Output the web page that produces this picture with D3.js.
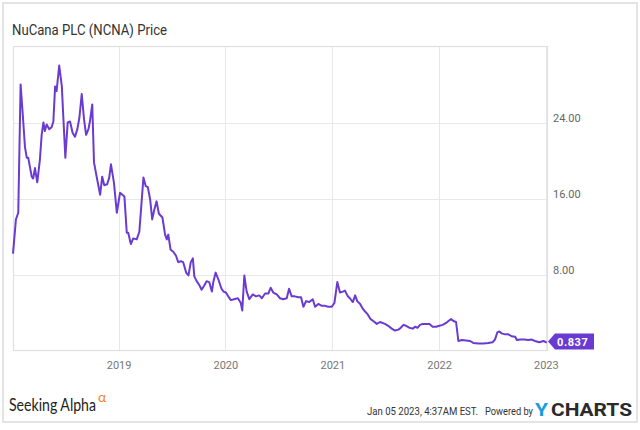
<!DOCTYPE html>
<html>
<head>
<meta charset="utf-8">
<script src="https://cdn.jsdelivr.net/npm/d3@7"></script>
<style>
  body { margin: 0; background: #fff; }
  svg { display: block; font-family: Roboto, "Noto Sans", sans-serif; }
</style>
</head>
<body>
<svg id="chart" width="640" height="430"></svg>
<script>
// NCNA closing prices
var dates = [
  "2018-01-05","2018-01-15","2018-01-23","2018-01-31","2018-02-07","2018-02-15","2018-02-21","2018-02-26",
  "2018-03-10","2018-03-15","2018-03-21","2018-03-29","2018-04-07","2018-04-13","2018-04-19","2018-04-24",
  "2018-04-30","2018-05-09","2018-05-17","2018-05-23","2018-05-29","2018-06-03","2018-06-12","2018-06-21",
  "2018-06-26","2018-07-03","2018-07-11","2018-07-19","2018-07-28","2018-08-05","2018-08-13","2018-08-20",
  "2018-08-28","2018-09-05","2018-09-12","2018-09-20","2018-09-25","2018-10-03","2018-10-09","2018-10-18",
  "2018-10-30","2018-11-06","2018-11-13","2018-11-23","2018-11-30","2018-12-06","2018-12-16","2018-12-26",
  "2019-01-06","2019-01-21","2019-01-29","2019-02-03","2019-02-12","2019-02-20","2019-03-04","2019-03-13",
  "2019-03-27","2019-04-04","2019-04-11","2019-04-19","2019-04-26","2019-05-03","2019-05-11","2019-05-19",
  "2019-05-31","2019-06-09","2019-06-15","2019-06-20","2019-06-28","2019-07-07","2019-07-16","2019-07-24",
  "2019-08-02","2019-08-10","2019-08-20","2019-08-28","2019-09-05","2019-09-12","2019-09-17","2019-09-25",
  "2019-10-04","2019-10-12","2019-10-20","2019-10-29","2019-11-07","2019-11-16","2019-11-21","2019-11-29",
  "2019-12-08","2019-12-19","2019-12-26",
  "2020-01-03","2020-01-11","2020-01-20","2020-01-31","2020-02-13","2020-02-23","2020-02-28","2020-03-06",
  "2020-03-14","2020-03-23","2020-04-04","2020-04-15","2020-04-26","2020-05-05","2020-05-16","2020-05-27",
  "2020-06-04","2020-06-13","2020-06-25","2020-07-06","2020-07-17","2020-07-29","2020-08-06","2020-08-15",
  "2020-08-26","2020-09-07","2020-09-16","2020-09-24","2020-10-03","2020-10-14","2020-10-26","2020-11-03",
  "2020-11-14","2020-11-26","2020-12-07","2020-12-18","2020-12-30",
  "2021-01-08","2021-01-18","2021-01-27","2021-02-06","2021-02-13","2021-02-23","2021-03-02","2021-03-12",
  "2021-03-20","2021-03-27","2021-04-06","2021-04-15","2021-04-23","2021-05-02","2021-05-12","2021-05-21",
  "2021-06-02","2021-06-13","2021-06-30","2021-07-11","2021-07-23","2021-08-03","2021-08-15","2021-08-23",
  "2021-09-01","2021-09-10","2021-09-21","2021-10-03","2021-10-11","2021-10-19","2021-10-28","2021-11-06",
  "2021-11-17","2021-11-29","2021-12-10","2021-12-22",
  "2022-01-02","2022-01-13","2022-01-25","2022-02-02","2022-02-11","2022-02-19","2022-02-28","2022-03-08",
  "2022-03-20","2022-04-03","2022-04-17","2022-04-28","2022-05-15","2022-06-01","2022-06-18","2022-07-03",
  "2022-07-11","2022-07-19","2022-07-26","2022-08-03","2022-08-15","2022-08-26","2022-09-06","2022-09-18",
  "2022-09-24","2022-10-05","2022-10-19","2022-11-02","2022-11-14","2022-11-25","2022-12-10","2022-12-24",
  "2023-01-04"
];
var prices = [
  10.2, 13.8, 14.5, 28.0, 25.0, 21.4, 20.3, 20.3,
  18.3, 18.1, 19.2, 17.7, 20.1, 22.7, 24.0, 23.1,
  23.8, 23.3, 23.5, 24.1, 27.8, 27.3, 30.0, 27.8,
  24.6, 20.3, 24.0, 24.1, 22.9, 22.5, 23.3, 24.5,
  27.0, 24.3, 22.7, 23.3, 24.1, 25.9, 19.8, 18.3,
  16.4, 18.3, 17.4, 17.5, 18.2, 19.6, 17.7, 14.5,
  16.6, 16.2, 12.4, 12.4, 11.2, 11.8, 11.7, 12.5,
  18.2, 17.3, 17.2, 15.9, 13.8, 14.8, 15.7, 14.4,
  14.0, 12.2, 11.7, 12.2, 10.6, 10.4, 10.0, 9.3,
  9.4, 9.3, 8.2, 7.9, 9.3, 9.7, 7.8, 7.3,
  6.9, 6.4, 6.8, 7.3, 7.2, 6.2, 7.2, 8.2,
  7.5, 6.5, 6.2,
  6.1, 5.7, 5.3, 5.4, 5.5, 5.0, 4.2, 7.9,
  6.2, 5.4, 5.9, 5.7, 5.8, 5.5, 6.0, 6.0,
  6.6, 6.1, 5.9, 5.5, 5.4, 5.5, 6.5, 5.7,
  5.7, 5.6, 5.6, 4.6, 5.2, 5.1, 5.4, 4.6,
  4.9, 4.7, 4.7, 4.6, 4.6,
  5.0, 7.2, 6.1, 6.2, 6.3, 5.7, 5.5, 5.1,
  5.8, 5.2, 4.9, 4.4, 4.1, 3.8, 3.3, 3.1,
  2.8, 3.0, 2.8, 2.6, 2.3, 2.1, 2.2, 2.4,
  2.7, 2.6, 2.4, 2.3, 2.5, 2.4, 2.7, 2.8,
  2.8, 2.8, 2.5, 2.5,
  2.6, 2.7, 2.9, 3.1, 3.3, 3.1, 3.0, 1.0,
  1.1, 1.05, 1.0, 0.8, 0.74, 0.74, 0.8, 0.87,
  1.15, 1.9, 2.0, 1.8, 1.7, 1.7, 1.5, 1.45,
  1.1, 1.15, 1.15, 1.1, 1.15, 1.0, 0.87, 1.0,
  0.837
];
var yTicks = [8, 16, 24];
var yearTicks = ["2019-01-01", "2020-01-01", "2021-01-01", "2022-01-01", "2023-01-01"];
var dateRange = ["2018-01-05", "2023-01-05"];
var chartTitle = "NuCana PLC (NCNA) Price";
var lastLabel = "0.837";
var stampText = "Jan 05 2023, 4:37AM EST.";

var parse = d3.timeParse("%Y-%m-%d");
var series = dates.map(function(d, i) { return { date: parse(d), price: prices[i] }; });

var svg = d3.select("#chart");
var plotLeft = 13, plotRight = 547, plotTop = 46.5, plotBottom = 350.5;
var lineColor = "#6a3bd0";

var x = d3.scaleTime().domain(dateRange.map(parse)).range([plotLeft, plotRight]);
var y = d3.scaleLinear().domain([0, 32]).range([plotBottom, plotTop]);

// outer frame
svg.append("rect").attr("x", 3).attr("y", 3).attr("width", 634).attr("height", 419)
  .attr("fill", "#fff").attr("stroke", "#dcdcdc").attr("stroke-width", 1.5);

svg.append("text").attr("x", 12).attr("y", 35)
  .attr("font-size", 14).attr("fill", "#333")
  .attr("textLength", 155).attr("lengthAdjust", "spacingAndGlyphs")
  .text(chartTitle);

// grid
var grid = svg.append("g").attr("class", "grid");
grid.selectAll("line.v").data(yearTicks.map(parse)).enter().append("line")
  .attr("x1", function(d) { return Math.round(x(d)) + 0.5; })
  .attr("x2", function(d) { return Math.round(x(d)) + 0.5; })
  .attr("y1", plotTop).attr("y2", plotBottom)
  .attr("stroke", "#e8e8e8");
grid.selectAll("line.h").data(yTicks).enter().append("line")
  .attr("x1", plotLeft).attr("x2", plotRight)
  .attr("y1", function(d) { return Math.round(y(d)) + 0.5; })
  .attr("y2", function(d) { return Math.round(y(d)) + 0.5; })
  .attr("stroke", "#e8e8e8");

svg.append("rect").attr("x", plotLeft + 0.5).attr("y", plotTop)
  .attr("width", plotRight - plotLeft).attr("height", plotBottom - plotTop)
  .attr("fill", "none").attr("stroke", "#e0e0e0").attr("stroke-width", 1.2);

// axes
var xAxis = svg.append("g").attr("transform", "translate(0," + plotBottom + ")")
  .call(d3.axisBottom(x).tickValues(yearTicks.map(parse)).tickSize(0).tickPadding(11)
    .tickFormat(d3.timeFormat("%Y")));
xAxis.select(".domain").remove();
xAxis.selectAll("text").attr("font-size", 11).attr("fill", "#777").attr("font-family", "Roboto");

var yAxis = svg.append("g").attr("transform", "translate(" + (plotRight + 6) + ",0)")
  .call(d3.axisRight(y).tickValues(yTicks).tickSize(0).tickPadding(0).tickFormat(d3.format(".2f")));
yAxis.select(".domain").remove();
yAxis.selectAll("text").attr("font-size", 11).attr("fill", "#666").attr("font-family", "Roboto")
  .attr("dy", "-0.05em");

// price line
var line = d3.line().x(function(d) { return x(d.date); }).y(function(d) { return y(d.price); });
svg.append("path").datum(series).attr("d", line)
  .attr("fill", "none").attr("stroke", lineColor).attr("stroke-width", 2)
  .attr("stroke-linejoin", "round");

// last value flag
var last = series[series.length - 1];
var fy = y(last.price) - 1, fx = plotRight + 1;
svg.append("path")
  .attr("d", "M" + fx + "," + fy + " L" + (fx + 7) + "," + (fy - 8) + " H" + (fx + 46) +
    " V" + (fy + 8) + " H" + (fx + 7) + " Z")
  .attr("fill", lineColor);
svg.append("text").attr("x", fx + 9).attr("y", fy + 4)
  .attr("font-size", 11).attr("font-weight", "bold").attr("fill", "#fff")
  .attr("letter-spacing", 0.6).text(lastLabel);

// footer
var brand = svg.append("g");
brand.append("text").attr("x", 9).attr("y", 411)
  .attr("font-family", "Lato, sans-serif").attr("font-size", 18).attr("fill", "#222")
  .attr("textLength", 87).attr("lengthAdjust", "spacingAndGlyphs")
  .text("Seeking Alpha");
brand.append("text").attr("x", 98).attr("y", 402)
  .attr("font-family", "Lato, sans-serif").attr("font-size", 14).attr("fill", "#f5821f")
  .text("\u03b1");

svg.append("text").attr("x", 367).attr("y", 415)
  .attr("font-size", 10.5).attr("fill", "#333")
  .attr("textLength", 111).attr("lengthAdjust", "spacingAndGlyphs")
  .text(stampText);
svg.append("text").attr("x", 485).attr("y", 415)
  .attr("font-size", 10.5).attr("fill", "#333")
  .attr("textLength", 48).attr("lengthAdjust", "spacingAndGlyphs")
  .text("Powered by");
svg.append("text").attr("x", 535).attr("y", 416)
  .attr("font-size", 18).attr("font-weight", "bold").attr("fill", "#1b9ce2")
  .attr("textLength", 13).attr("lengthAdjust", "spacingAndGlyphs")
  .text("Y");
svg.append("text").attr("x", 551).attr("y", 416)
  .attr("font-size", 18).attr("font-weight", "bold").attr("fill", "#2b2b2b")
  .attr("textLength", 81).attr("lengthAdjust", "spacingAndGlyphs")
  .text("CHARTS");
</script>
</body>
</html>
